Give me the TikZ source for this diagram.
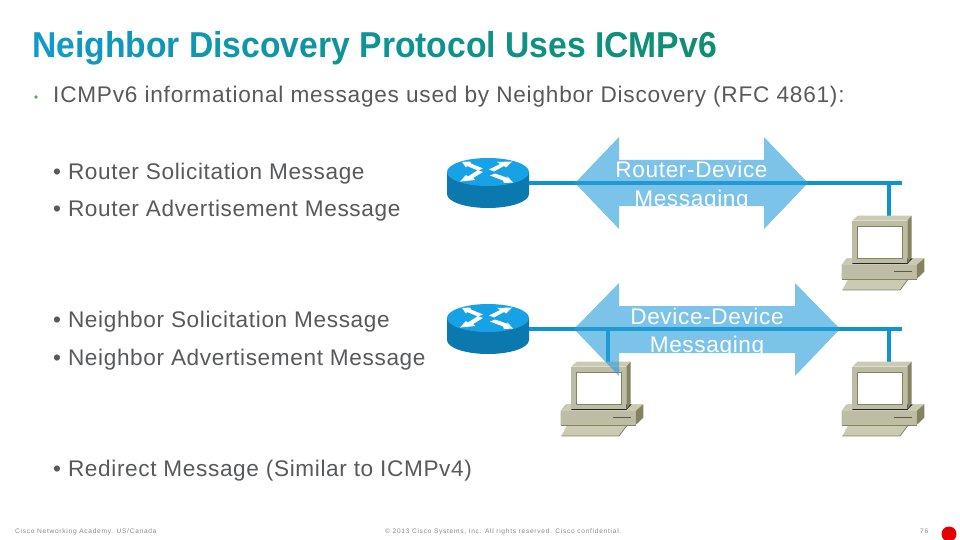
\documentclass[tikz,border=0pt]{standalone}
\usepackage{fontspec}
\setmainfont{Liberation Sans}
\newfontfamily\titlefont[FakeStretch=.935]{Liberation Sans Bold}
\newfontfamily\bodyfont[LetterSpace=2.8]{Liberation Sans}
\newfontfamily\introfont[LetterSpace=3.5]{Liberation Sans}
\newfontfamily\footfont[LetterSpace=11]{Liberation Sans}
\definecolor{txt}{HTML}{58595B}
\definecolor{foot}{HTML}{8A8A8A}
\definecolor{linkc}{HTML}{0F94CC}
\definecolor{arr}{HTML}{2A9FDA}
\definecolor{rtop}{HTML}{18A2E6}
\definecolor{rside}{HTML}{0B79AE}
\definecolor{mon}{HTML}{BDBDA5}
\definecolor{monl}{HTML}{CBCBB4}
\definecolor{mond}{HTML}{83835F}
\definecolor{t1}{HTML}{0F9AC8}
\definecolor{t2}{HTML}{0F8F72}
\newcommand\tc[2]{{\color{t1!#1!t2}#2}}
\tikzset{
  bul/.style={anchor=base west,inner sep=0pt,font=\bodyfont\fontsize{22.6}{26}\selectfont,text=txt},
  foots/.style={anchor=base west,inner sep=0pt,font=\footfont\fontsize{6.6}{8}\selectfont,text=foot},
  msg/.style={anchor=base,inner sep=0pt,font=\bodyfont\fontsize{22.6}{26}\selectfont,text=white},
  link/.style={draw=linkc,line width=3.4pt},
  arrowshape/.style={fill=arr,fill opacity=.62,draw=none}
}
\newcommand\computer[2]{%
\begin{scope}[shift={(#1,#2)},x=.3333pt,y=-.3333pt]
  \fill[mon] (80,265)--(65,285)--(65,327)--(290,327)--(290,285)--(313,265)--cycle;
  \fill[monl] (65,285)--(85,265)--(313,265)--(290,285)--cycle;
  \fill[mond] (290,285)--(313,265)--(313,305)--(290,327)--cycle;
  \fill[monl] (85,327)--(265,327)--(240,360)--(67,360)--cycle;
  \draw[mond,line width=.8pt] (67,360)--(240,360)--(265,327);
  \draw[mond,line width=.8pt] (65,327)--(290,327);
  \draw[mond!70!black,line width=1pt] (222,305)--(277,305);
  \fill[black!85] (97,265)--(97,282)--(262,282)--(278,265)--cycle;
  \fill[mon] (97,152) rectangle (262,280);
  \fill[monl] (97,152)--(113,137)--(275,137)--(262,152)--cycle;
  \fill[mond] (262,152)--(275,137)--(275,262)--(262,280)--cycle;
  \fill[white] (113,170) rectangle (247,265);
  \draw[mond,line width=.6pt] (113,170) rectangle (247,265);
\end{scope}}
\newcommand\router[2]{%
\begin{scope}[shift={(#1,#2)}]
  \fill[rside] (-41,0)--(-41,22) arc[x radius=41,y radius=14,start angle=180,end angle=0]--(41,0)--cycle;
  \fill[rtop] (0,0) ellipse[x radius=41,y radius=14];
  \fill[white] (-26,-10)--(-18,-10.5)--(-17,-8.5)--(-5,-3.5)--(-10,-1.5)--(-21,-6)--(-22,-4.5)--cycle;
  \fill[white] (24,-10.5)--(18,-4.5)--(16,-6)--(6,-0.5)--(1,-2.5)--(12,-8)--(9,-10)--cycle;
  \fill[white] (-28,9.5)--(-22,3)--(-20,4.5)--(-10,-2)--(-5,0)--(-15,6)--(-13,8)--cycle;
  \fill[white] (25,10.5)--(16,11)--(15,8.5)--(2,3.5)--(7,1.5)--(20,6)--(19,4)--cycle;
\end{scope}}
\begin{document}
\begin{tikzpicture}[x=1pt,y=-1pt]
\useasboundingbox (0,0) rectangle (960,540);
\clip (0,0) rectangle (960,540);
\fill[white] (0,0) rectangle (960,540);
\node[anchor=base west,inner sep=0pt,font=\titlefont\fontsize{36}{40}\selectfont] (title) at (32,58)
 {\tc{100}{Ne}\tc{92}{ig}\tc{85}{hb}\tc{78}{or }\tc{70}{Dis}\tc{62}{co}\tc{55}{ve}\tc{48}{ry }\tc{42}{Pr}\tc{36}{ot}\tc{30}{oc}\tc{25}{ol }\tc{20}{Us}\tc{15}{es }\tc{10}{IC}\tc{5}{MP}\tc{0}{v6}};
\fill[green!30!gray] (36,97) circle (1.8);
\node[bul,font=\introfont\fontsize{22.6}{26}\selectfont] (intro) at (53,103) {ICMPv6 informational messages used by Neighbor Discovery (RFC 4861):};
\node[bul] (b1) at (53,179) {• Router Solicitation Message};
\node[bul] (b2) at (53,216) {• Router Advertisement Message};
\node[bul] (b3) at (53,327) {• Neighbor Solicitation Message};
\node[bul] (b4) at (53,365) {• Neighbor Advertisement Message};
\node[bul] (b5) at (53,476) {• Redirect Message (Similar to ICMPv4)};
\node[foots] (f1) at (15,533) {Cisco Networking Academy. US/Canada};
\node[foots] (f2) at (385,533) {© 2013 Cisco Systems, Inc. All rights reserved. Cisco confidential.};
\node[foots] (f3) at (920,533) {76};
\fill[red!90!black] (949,534) circle (7.5);
% network
\coordinate (r1) at (529,183);
\coordinate (e1) at (902,183);
\coordinate (r2) at (529,329);
\coordinate (e2) at (902,329);
\coordinate (j1) at (889,183);
\coordinate (pc1) at (889,216);
\coordinate (j2) at (889,329);
\coordinate (pc2) at (889,362);
\coordinate (j3) at (608,329);
\coordinate (pc3) at (608,362);
\draw[link] (r1)--(e1);
\draw[link] (r2)--(e2);
\draw[link] (j1)--(pc1);
\draw[link] (j2)--(pc2);
\draw[link] (j3)--(pc3);
\router{488}{172}
\router{488}{318}
\computer{820}{170}
\computer{820}{316}
\computer{539}{316}
% arrows
\fill[arrowshape] (575,183)--(619,137)--(619,160)--(764,160)--(764,137)--(808,183)--(764,229)--(764,206)--(619,206)--(619,229)--cycle;
\fill[arrowshape] (574,329)--(619,283)--(619,306)--(795,306)--(795,283)--(840,329)--(795,376)--(795,353)--(619,353)--(619,376)--cycle;
\begin{scope}
 \clip (600,150) rectangle (800,206);
 \node[msg] (m1) at (691.5,178) {Router-Device};
 \node[msg] (m2) at (691.5,206) {Messaging};
\end{scope}
\begin{scope}
 \clip (600,296) rectangle (830,353);
 \node[msg] (m3) at (707,324) {Device-Device};
 \node[msg] (m4) at (707,352.5) {Messaging};
\end{scope}
\end{tikzpicture}
\end{document}
